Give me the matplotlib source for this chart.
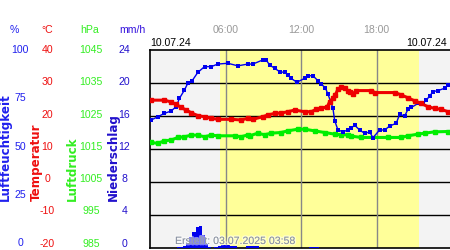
import matplotlib
matplotlib.use("Agg")
import matplotlib.pyplot as plt
import matplotlib.patheffects as pe

plt.rcParams['font.family'] = ['Liberation Sans', 'DejaVu Sans']

# ---- data (hours of day) ----
hum_t = [0.09, 0.62, 1.15, 1.68, 2.08, 2.34, 2.74, 3.0, 3.35, 3.8, 4.33, 4.86, 5.39, 6.18, 6.98, 7.77,
         8.17, 8.97, 9.23, 9.5, 9.9, 10.3, 10.7, 10.95, 11.2, 11.67, 12.28, 12.54, 12.94, 13.34, 13.6,
         13.92, 14.13, 14.35, 14.53, 14.67, 14.93, 15.33, 15.72, 15.94, 16.26, 16.65, 17.05, 17.45,
         17.71, 18.24, 18.64, 19.04, 19.56, 19.83, 20.23, 20.49, 20.76, 21.29, 21.69, 21.95, 22.22,
         22.48, 22.88, 23.41, 23.67]
hum_v = [64.6, 66.3, 68.0, 69.2, 71.4, 75.6, 79.8, 83.2, 84.5, 88.7, 91.6, 91.6, 92.9, 93.3, 92.0, 92.9,
         92.9, 95.0, 95.0, 92.4, 90.8, 89.0, 88.7, 87.4, 85.7, 83.7, 85.7, 87.0, 87.0, 84.5, 82.7,
         81.0, 77.8, 73.9, 70.6, 64.3, 59.6, 58.7, 59.6, 60.4, 62.0, 59.6, 57.9, 58.6,
         55.7, 59.6, 59.6, 61.6, 63.0, 67.5, 66.7, 70.0, 71.0, 73.0, 73.0, 74.7, 76.8,
         79.0, 79.5, 80.7, 82.3]

temp_t = [0.09, 1.15, 1.63, 2.08, 2.47, 2.87, 3.27, 3.8, 4.33, 4.86, 5.39, 6.45, 7.24, 7.77,
          8.17, 8.97, 9.36, 9.9, 10.42, 10.95, 11.49, 12.28, 12.81, 13.2, 13.6, 14.08, 14.27, 14.53,
          14.72, 14.93, 15.19, 15.46, 15.72, 15.86, 16.12, 16.38, 17.58, 17.85, 19.44, 19.96, 20.49,
          21.02, 21.55, 22.08, 22.61, 23.14, 23.67]
temp_v = [24.8, 24.8, 24.3, 23.5, 22.6, 21.8, 21.0, 20.1, 19.8, 19.3, 19.0, 19.0, 18.8, 19.3,
          19.0, 19.8, 20.3, 20.8, 20.9, 21.3, 21.8, 21.3, 21.3, 22.0, 22.3, 22.8, 24.3, 25.4,
          26.4, 28.1, 28.7, 28.4, 27.7, 27.4, 26.7, 27.7, 27.7, 27.1, 27.1, 26.4, 25.5,
          24.6, 23.8, 22.8, 22.3, 22.0, 21.3]

pres_t = [0.09, 0.62, 1.15, 1.68, 2.21, 2.74, 3.27, 3.8, 4.33, 4.86, 5.39, 6.72, 7.24, 7.77,
          7.91, 8.57, 9.1, 9.63, 10.42, 10.95, 11.75, 12.28, 13.07, 13.87, 14.67, 15.19, 15.72,
          15.99, 16.78, 18.9, 19.96, 20.49, 21.29, 21.82, 22.61, 23.67]
pres_v = [1017.0, 1016.7, 1017.5, 1017.7, 1018.5, 1018.7, 1019.2, 1019.2, 1018.7, 1019.2, 1019.0,
          1019.0, 1018.7, 1019.3, 1019.0, 1019.8, 1019.3, 1019.8, 1020.0, 1020.5, 1021.0, 1021.0,
          1020.5, 1020.0, 1019.5, 1019.3, 1019.3, 1018.9, 1018.5, 1018.5, 1018.5, 1019.0, 1019.5,
          1019.8, 1020.2, 1020.3]

rain_t = [2.25, 2.5, 2.75, 3.0, 3.25, 3.5, 3.75, 4.0, 4.25, 4.5, 4.75, 5.25, 5.5, 5.75, 6.0, 6.25,
          6.5, 6.75, 7.75, 8.0, 8.25, 8.5, 12.75, 13.0, 13.25]
rain_v = [0.1, 0.15, 0.2, 0.6, 1.3, 2.0, 2.5, 2.65, 1.6, 0.5, 0.15, 0.15, 0.3, 0.4, 0.4, 0.35,
          0.3, 0.2, 0.2, 0.25, 0.25, 0.2, 0.15, 0.15, 0.15]

day_start, day_end = 5.55, 21.4
hour_ticks = [6, 12, 18]
hour_labels = ["06:00", "12:00", "18:00"]
hum_ticks = ["100", "75", "50", "25", "0"]
temp_ticks = ["40", "30", "20", "10", "0", "-10", "-20"]
pres_ticks = ["1045", "1035", "1025", "1015", "1005", "995", "985"]
rain_ticks = ["24", "20", "16", "12", "8", "4", "0"]

# ---- figure ----
W, H = 450, 250
fig = plt.figure(figsize=(4.5, 2.5), dpi=100)
fig.patch.set_facecolor('white')
L, R, T, B = 150, 450, 50, 248
ax = fig.add_axes([L / W, 1 - B / H, (R - L) / W, (B - T) / H])
ax.set_facecolor('#f3f3f3')
ax.set_xlim(0, 23.83)
ax.set_ylim(-20, 40)
ax.axvspan(day_start, day_end, color='#ffff99', zorder=0, lw=0)
for y in [-10, 0, 10, 20, 30]:
    ax.axhline(y, color='black', lw=1.0, zorder=1)
for h in hour_ticks:
    ax.axvline(h, color='#888888', lw=1.0, zorder=1)
ax.set_xticks([]); ax.set_yticks([])
for s in ['left', 'top', 'bottom']:
    ax.spines[s].set_linewidth(1.2)
ax.spines['right'].set_visible(False)

def twin(lo, hi):
    a = ax.twinx()
    a.set_ylim(lo, hi)
    a.set_yticks([]); a.set_xticks([])
    for s in a.spines.values():
        s.set_visible(False)
    a.patch.set_visible(False)
    return a

ax_r = twin(0, 24)
ax_r.bar(rain_t, rain_v, width=0.27, color='#0000ee', lw=0, zorder=2)
ax_p = twin(985, 1045)
ax_p.plot(pres_t, pres_v, color='#00ee00', lw=2.2, marker='s', ms=2.2, zorder=3)
ax_h = twin(0, 100)
ax_h.plot(hum_t, hum_v, color='#0000ee', lw=1.0, marker='s', ms=2.6, mew=0, zorder=4)
ax_t = twin(-20, 40)
ax_t.plot(temp_t, temp_v, color='#ee0000', lw=2.2, marker='s', ms=2.2, zorder=5)
ax_t.set_xlim(0, 23.83)

def ft(x, y, s, **kw):
    fig.text(x / W, 1 - y / H, s, **kw)

fs = 7.6
# headers
ft(14, 30, "%", color='#2020ee', fontsize=fs, ha='center', va='center')
ft(47, 30, "°C", color='#ee1010', fontsize=fs, ha='center', va='center')
ft(90, 30, "hPa", color='#33ee22', fontsize=fs, ha='center', va='center')
ft(132, 30, "mm/h", color='#3311dd', fontsize=fs, ha='center', va='center')
# tick labels
for i, s in enumerate(hum_ticks):
    ft(20, 50 + i * 48.3, s, color='#2020ee', fontsize=fs, ha='center', va='center')
for i, s in enumerate(temp_ticks):
    ft(47.5, 50 + i * 32.3, s, color='#ee1010', fontsize=fs, ha='center', va='center')
for i, s in enumerate(pres_ticks):
    ft(91, 50 + i * 32.3, s, color='#33ee22', fontsize=fs, ha='center', va='center')
for i, s in enumerate(rain_ticks):
    ft(124.5, 50 + i * 32.3, s, color='#2211cc', fontsize=fs, ha='center', va='center')
# axis titles
tk = dict(fontsize=8.6, rotation=90, ha='center', va='bottom', family='DejaVu Sans', weight='bold')
ft(5.5, 201, "Luftfeuchtigkeit", color='#2020ee', **tk)
ft(36.5, 201, "Temperatur", color='#ee1010', **tk)
ft(72, 201, "Luftdruck", color='#33ee22', **tk)
ft(113, 201, "Niederschlag", color='#2211cc', **tk)
# time labels
for h, s in zip(hour_ticks, hour_labels):
    ft(150.2 + h * 12.58, 30, s, color='#999999', fontsize=fs, ha='center', va='center')
ft(150, 43, "10.07.24", color='black', fontsize=fs, ha='left', va='center')
ft(447, 43, "10.07.24", color='black', fontsize=fs, ha='right', va='center')
ft(175, 241, "Erstellt: 03.07.2025 03:58", color='#8890a0', fontsize=7.6, ha='left', va='center',
   path_effects=[pe.withStroke(linewidth=2, foreground=(1, 1, 1, 0.5))])

fig.savefig("out.png", dpi=100)
